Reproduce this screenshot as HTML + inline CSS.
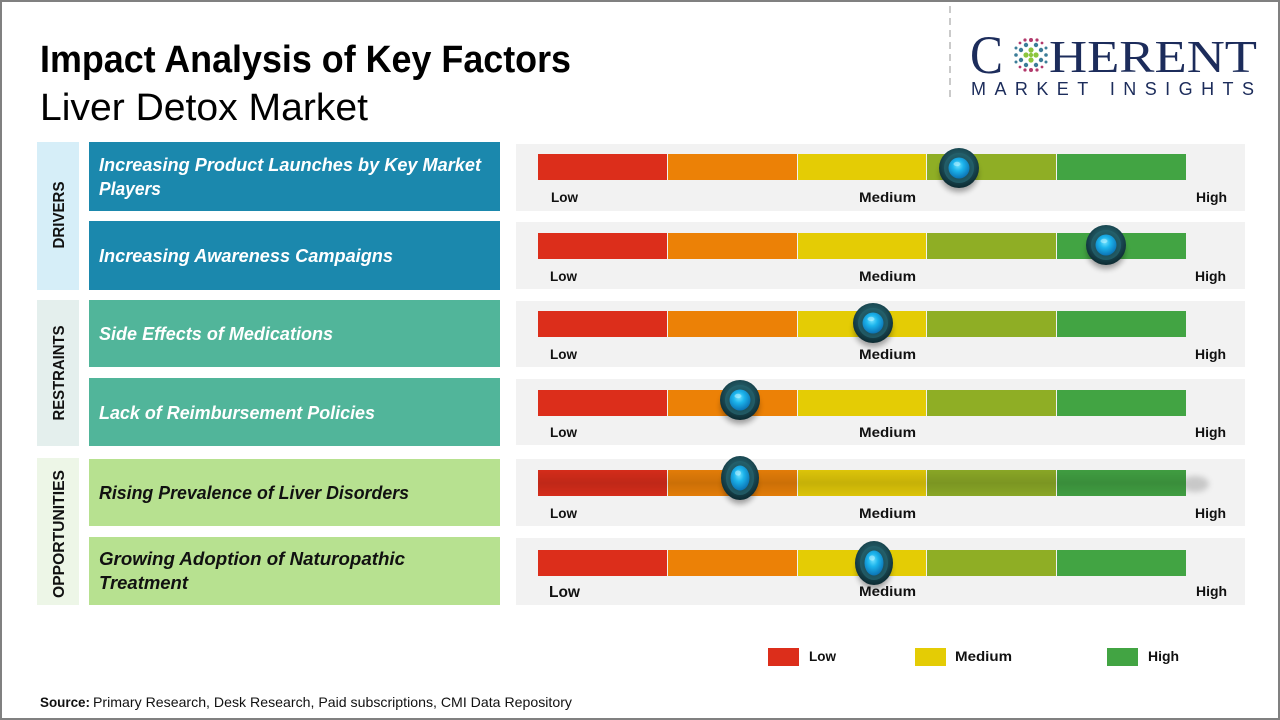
<!DOCTYPE html>
<html>
<head>
<meta charset="utf-8">
<style>
  html,body{margin:0;padding:0;background:#fff;}
  svg{display:block;}
  text{font-family:"Liberation Sans", sans-serif;}
</style>
</head>
<body>
<svg width="1280" height="720" viewBox="0 0 1280 720" xmlns="http://www.w3.org/2000/svg">
  <defs>
    <radialGradient id="knobOuter" cx="50%" cy="40%" r="60%">
      <stop offset="0%" stop-color="#2f7480"/>
      <stop offset="60%" stop-color="#1c4d57"/>
      <stop offset="100%" stop-color="#0c2a31"/>
    </radialGradient>
    <radialGradient id="knobRing" cx="50%" cy="55%" r="55%">
      <stop offset="0%" stop-color="#163f48"/>
      <stop offset="100%" stop-color="#24616c"/>
    </radialGradient>
    <radialGradient id="knobBlue" cx="45%" cy="38%" r="65%">
      <stop offset="0%" stop-color="#6fe2ff"/>
      <stop offset="40%" stop-color="#1cb4ec"/>
      <stop offset="100%" stop-color="#0a6eb0"/>
    </radialGradient>
    <filter id="blur" x="-50%" y="-50%" width="200%" height="200%">
      <feGaussianBlur stdDeviation="3"/>
    </filter>
    <linearGradient id="shade5" x1="0" y1="0" x2="0" y2="1">
      <stop offset="0%" stop-color="#000" stop-opacity="0"/>
      <stop offset="50%" stop-color="#000" stop-opacity="0.10"/>
      <stop offset="100%" stop-color="#000" stop-opacity="0"/>
    </linearGradient>
  </defs>

  <rect x="0" y="0" width="1280" height="720" fill="#ffffff"/>

  <!-- Title -->
  <text x="40" y="72" font-size="38" font-weight="bold" fill="#000" textLength="531" lengthAdjust="spacingAndGlyphs">Impact Analysis of Key Factors</text>
  <text x="40" y="120" font-size="38" fill="#000" textLength="328" lengthAdjust="spacingAndGlyphs">Liver Detox Market</text>

  <!-- Logo -->
  <line x1="950" y1="6" x2="950" y2="100" stroke="#b8b8b8" stroke-width="1.5" stroke-dasharray="7 5"/>
  <text x="970" y="73" font-size="54" fill="#1c2c5b" style="font-family:'Liberation Serif',serif" textLength="33" lengthAdjust="spacingAndGlyphs">C</text>
  <g>
    <g fill="#3c7d98">
      <circle cx="1021" cy="50" r="2.2"/><circle cx="1021" cy="60" r="2.2"/>
      <circle cx="1041" cy="50" r="2.2"/><circle cx="1041" cy="60" r="2.2"/>
      <circle cx="1016" cy="55" r="1.8"/><circle cx="1046" cy="55" r="1.8"/>
      <circle cx="1026" cy="45" r="2.2"/><circle cx="1036" cy="45" r="2.2"/>
      <circle cx="1026" cy="65" r="2.2"/><circle cx="1036" cy="65" r="2.2"/>
      <circle cx="1016" cy="48" r="1.5"/><circle cx="1046" cy="48" r="1.5"/>
      <circle cx="1016" cy="62" r="1.5"/><circle cx="1046" cy="62" r="1.5"/>
    </g>
    <g fill="#b23a6c">
      <circle cx="1031" cy="40" r="2"/><circle cx="1025" cy="40" r="1.6"/><circle cx="1037" cy="40" r="1.6"/>
      <circle cx="1031" cy="70" r="2"/><circle cx="1025" cy="70" r="1.6"/><circle cx="1037" cy="70" r="1.6"/>
      <circle cx="1020" cy="43" r="1.4"/><circle cx="1042" cy="43" r="1.4"/>
      <circle cx="1020" cy="67" r="1.4"/><circle cx="1042" cy="67" r="1.4"/>
    </g>
    <g fill="#8cc63e">
      <circle cx="1031" cy="50" r="2.6"/><circle cx="1031" cy="60" r="2.6"/>
      <circle cx="1026" cy="55" r="2.6"/><circle cx="1036" cy="55" r="2.6"/>
      <circle cx="1031" cy="55" r="2.2"/>
    </g>
  </g>
  <text x="1049" y="72" font-size="46" fill="#1c2c5b" style="font-family:'Liberation Serif',serif" textLength="208" lengthAdjust="spacingAndGlyphs">HERENT</text>
  <text x="971" y="95" font-size="18" fill="#1c2c5b" textLength="283" lengthAdjust="spacing">MARKET INSIGHTS</text>

  <!-- Category boxes -->
  <rect x="37" y="142" width="42" height="148" fill="#d6eef8"/>
  <rect x="37" y="300" width="42" height="146" fill="#e4efed"/>
  <rect x="37" y="458" width="42" height="147" fill="#edf6e7"/>
  <text transform="translate(64,215) rotate(-90)" text-anchor="middle" font-size="16" font-weight="bold" fill="#111" textLength="67" lengthAdjust="spacingAndGlyphs">DRIVERS</text>
  <text transform="translate(64,373) rotate(-90)" text-anchor="middle" font-size="16" font-weight="bold" fill="#111" textLength="95" lengthAdjust="spacingAndGlyphs">RESTRAINTS</text>
  <text transform="translate(64,534) rotate(-90)" text-anchor="middle" font-size="16" font-weight="bold" fill="#111" textLength="128" lengthAdjust="spacingAndGlyphs">OPPORTUNITIES</text>

  <!-- Factor boxes -->
  <rect x="89" y="142" width="411" height="69" fill="#1b88ad"/>
  <rect x="89" y="221" width="411" height="69" fill="#1b88ad"/>
  <rect x="89" y="300" width="411" height="67" fill="#51b59a"/>
  <rect x="89" y="378" width="411" height="68" fill="#51b59a"/>
  <rect x="89" y="459" width="411" height="67" fill="#b7e190"/>
  <rect x="89" y="537" width="411" height="68" fill="#b7e190"/>

  <g font-size="18" font-weight="bold" font-style="italic">
    <text x="99" y="171" fill="#fff" textLength="382" lengthAdjust="spacingAndGlyphs">Increasing Product Launches by Key Market</text>
    <text x="99" y="195" fill="#fff" textLength="62" lengthAdjust="spacingAndGlyphs">Players</text>
    <text x="99" y="262" fill="#fff" textLength="294" lengthAdjust="spacingAndGlyphs">Increasing  Awareness  Campaigns</text>
    <text x="99" y="340" fill="#fff" textLength="234" lengthAdjust="spacingAndGlyphs">Side Effects of Medications</text>
    <text x="99" y="419" fill="#fff" textLength="276" lengthAdjust="spacingAndGlyphs">Lack of Reimbursement  Policies</text>
    <text x="99" y="499" fill="#111" textLength="310" lengthAdjust="spacingAndGlyphs">Rising Prevalence  of Liver Disorders</text>
    <text x="99" y="565" fill="#111" textLength="306" lengthAdjust="spacingAndGlyphs">Growing  Adoption  of Naturopathic</text>
    <text x="99" y="589" fill="#111" textLength="89" lengthAdjust="spacingAndGlyphs">Treatment</text>
  </g>

  <!-- Panels -->
  <g fill="#f2f2f2">
    <rect x="516" y="144" width="729" height="67"/>
    <rect x="516" y="222" width="729" height="67"/>
    <rect x="516" y="301" width="729" height="66"/>
    <rect x="516" y="379" width="729" height="66"/>
    <rect x="516" y="459" width="729" height="67"/>
    <rect x="516" y="538" width="729" height="67"/>
  </g>

  <!-- Bars -->
  <g>
    <g transform="translate(0,154)">
      <rect x="538" y="0" width="129" height="26" fill="#dc2e1b"/>
      <rect x="668" y="0" width="129" height="26" fill="#ec8106"/>
      <rect x="798" y="0" width="128" height="26" fill="#e4cc05"/>
      <rect x="927" y="0" width="129" height="26" fill="#8fae25"/>
      <rect x="1057" y="0" width="129" height="26" fill="#42a443"/>
    </g>
    <g transform="translate(0,233)">
      <rect x="538" y="0" width="129" height="26" fill="#dc2e1b"/>
      <rect x="668" y="0" width="129" height="26" fill="#ec8106"/>
      <rect x="798" y="0" width="128" height="26" fill="#e4cc05"/>
      <rect x="927" y="0" width="129" height="26" fill="#8fae25"/>
      <rect x="1057" y="0" width="129" height="26" fill="#42a443"/>
    </g>
    <g transform="translate(0,311)">
      <rect x="538" y="0" width="129" height="26" fill="#dc2e1b"/>
      <rect x="668" y="0" width="129" height="26" fill="#ec8106"/>
      <rect x="798" y="0" width="128" height="26" fill="#e4cc05"/>
      <rect x="927" y="0" width="129" height="26" fill="#8fae25"/>
      <rect x="1057" y="0" width="129" height="26" fill="#42a443"/>
    </g>
    <g transform="translate(0,390)">
      <rect x="538" y="0" width="129" height="26" fill="#dc2e1b"/>
      <rect x="668" y="0" width="129" height="26" fill="#ec8106"/>
      <rect x="798" y="0" width="128" height="26" fill="#e4cc05"/>
      <rect x="927" y="0" width="129" height="26" fill="#8fae25"/>
      <rect x="1057" y="0" width="129" height="26" fill="#42a443"/>
    </g>
    <g transform="translate(0,470)">
      <ellipse cx="1195" cy="14" rx="14" ry="8" fill="#c8c8c8" filter="url(#blur)"/>
      <rect x="538" y="0" width="129" height="26" fill="#d42c1a"/>
      <rect x="668" y="0" width="129" height="26" fill="#e27c08"/>
      <rect x="798" y="0" width="128" height="26" fill="#dcc409"/>
      <rect x="927" y="0" width="129" height="26" fill="#89a626"/>
      <rect x="1057" y="0" width="129" height="26" fill="#409d41"/>
      <rect x="538" y="0" width="648" height="26" fill="url(#shade5)"/>
    </g>
    <g transform="translate(0,550)">
      <rect x="538" y="0" width="129" height="26" fill="#dc2e1b"/>
      <rect x="668" y="0" width="129" height="26" fill="#ec8106"/>
      <rect x="798" y="0" width="128" height="26" fill="#e4cc05"/>
      <rect x="927" y="0" width="129" height="26" fill="#8fae25"/>
      <rect x="1057" y="0" width="129" height="26" fill="#42a443"/>
    </g>
  </g>

  <!-- Low / Medium / High labels -->
  <g font-size="14" font-weight="bold" fill="#111">
    <text x="551" y="202" textLength="27" lengthAdjust="spacingAndGlyphs">Low</text>
    <text x="859" y="202" textLength="57" lengthAdjust="spacingAndGlyphs">Medium</text>
    <text x="1196" y="202" textLength="31" lengthAdjust="spacingAndGlyphs">High</text>

    <text x="550" y="281" textLength="27" lengthAdjust="spacingAndGlyphs">Low</text>
    <text x="859" y="281" textLength="57" lengthAdjust="spacingAndGlyphs">Medium</text>
    <text x="1195" y="281" textLength="31" lengthAdjust="spacingAndGlyphs">High</text>

    <text x="550" y="359" textLength="27" lengthAdjust="spacingAndGlyphs">Low</text>
    <text x="859" y="359" textLength="57" lengthAdjust="spacingAndGlyphs">Medium</text>
    <text x="1195" y="359" textLength="31" lengthAdjust="spacingAndGlyphs">High</text>

    <text x="550" y="437" textLength="27" lengthAdjust="spacingAndGlyphs">Low</text>
    <text x="859" y="437" textLength="57" lengthAdjust="spacingAndGlyphs">Medium</text>
    <text x="1195" y="437" textLength="31" lengthAdjust="spacingAndGlyphs">High</text>

    <text x="550" y="518" textLength="27" lengthAdjust="spacingAndGlyphs">Low</text>
    <text x="859" y="518" textLength="57" lengthAdjust="spacingAndGlyphs">Medium</text>
    <text x="1195" y="518" textLength="31" lengthAdjust="spacingAndGlyphs">High</text>

    <text x="549" y="597" font-size="16" textLength="31" lengthAdjust="spacingAndGlyphs">Low</text>
    <text x="859" y="596" textLength="57" lengthAdjust="spacingAndGlyphs">Medium</text>
    <text x="1196" y="596" textLength="31" lengthAdjust="spacingAndGlyphs">High</text>
  </g>

  <!-- Knobs -->
  <g>
    <g transform="translate(959,168)">
      <ellipse cx="0" cy="6" rx="19" ry="18" fill="#000" opacity="0.35" filter="url(#blur)"/>
      <circle r="20" fill="url(#knobOuter)"/>
      <circle r="15" fill="url(#knobRing)"/>
      <circle r="10.5" fill="url(#knobBlue)"/>
      <ellipse cx="-2" cy="-4" rx="3.5" ry="2.2" fill="#c8f6ff" opacity="0.5"/>
    </g>
    <g transform="translate(1106,245)">
      <ellipse cx="0" cy="6" rx="19" ry="18" fill="#000" opacity="0.35" filter="url(#blur)"/>
      <circle r="20" fill="url(#knobOuter)"/>
      <circle r="15" fill="url(#knobRing)"/>
      <circle r="10.5" fill="url(#knobBlue)"/>
      <ellipse cx="-2" cy="-4" rx="3.5" ry="2.2" fill="#c8f6ff" opacity="0.5"/>
    </g>
    <g transform="translate(873,323)">
      <ellipse cx="0" cy="6" rx="19" ry="18" fill="#000" opacity="0.35" filter="url(#blur)"/>
      <circle r="20" fill="url(#knobOuter)"/>
      <circle r="15" fill="url(#knobRing)"/>
      <circle r="10.5" fill="url(#knobBlue)"/>
      <ellipse cx="-2" cy="-4" rx="3.5" ry="2.2" fill="#c8f6ff" opacity="0.5"/>
    </g>
    <g transform="translate(740,400)">
      <ellipse cx="0" cy="6" rx="19" ry="18" fill="#000" opacity="0.35" filter="url(#blur)"/>
      <circle r="20" fill="url(#knobOuter)"/>
      <circle r="15" fill="url(#knobRing)"/>
      <circle r="10.5" fill="url(#knobBlue)"/>
      <ellipse cx="-2" cy="-4" rx="3.5" ry="2.2" fill="#c8f6ff" opacity="0.5"/>
    </g>
    <g transform="translate(740,478)">
      <ellipse cx="0" cy="6" rx="17" ry="20" fill="#000" opacity="0.35" filter="url(#blur)"/>
      <ellipse rx="19" ry="22" fill="url(#knobOuter)"/>
      <ellipse rx="14" ry="17" fill="url(#knobRing)"/>
      <ellipse rx="9.5" ry="12.5" fill="url(#knobBlue)"/>
      <ellipse cx="-2" cy="-5" rx="3" ry="2.6" fill="#c8f6ff" opacity="0.5"/>
    </g>
    <g transform="translate(874,563)">
      <ellipse cx="0" cy="6" rx="17" ry="20" fill="#000" opacity="0.35" filter="url(#blur)"/>
      <ellipse rx="19" ry="22" fill="url(#knobOuter)"/>
      <ellipse rx="14" ry="17" fill="url(#knobRing)"/>
      <ellipse rx="9.5" ry="12.5" fill="url(#knobBlue)"/>
      <ellipse cx="-2" cy="-5" rx="3" ry="2.6" fill="#c8f6ff" opacity="0.5"/>
    </g>
  </g>

  <!-- Legend -->
  <rect x="768" y="648" width="31" height="18" fill="#dc2e1b"/>
  <rect x="915" y="648" width="31" height="18" fill="#e4cc05"/>
  <rect x="1107" y="648" width="31" height="18" fill="#42a443"/>
  <g font-size="14" font-weight="bold" fill="#111">
    <text x="809" y="661" textLength="27" lengthAdjust="spacingAndGlyphs">Low</text>
    <text x="955" y="661" textLength="57" lengthAdjust="spacingAndGlyphs">Medium</text>
    <text x="1148" y="661" textLength="31" lengthAdjust="spacingAndGlyphs">High</text>
  </g>

  <!-- Source -->
  <text x="40" y="707" font-size="14" font-weight="bold" fill="#111" textLength="50" lengthAdjust="spacingAndGlyphs">Source:</text>
  <text x="93" y="707" font-size="14" fill="#111" textLength="479" lengthAdjust="spacingAndGlyphs">Primary Research, Desk Research, Paid subscriptions, CMI Data Repository</text>

  <!-- Outer border -->
  <rect x="1" y="1" width="1278" height="718" fill="none" stroke="#808080" stroke-width="2"/>
</svg>
</body>
</html>
